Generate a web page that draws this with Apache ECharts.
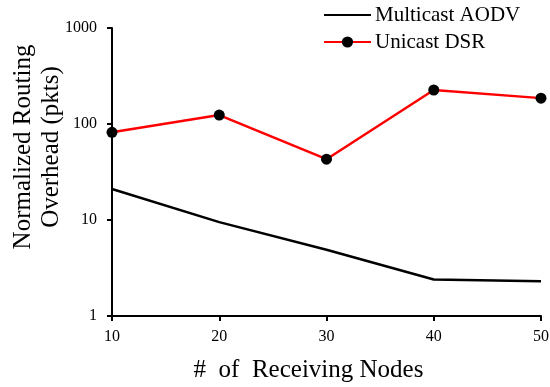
<!DOCTYPE html>
<html><head><meta charset="utf-8">
<script src="https://cdn.jsdelivr.net/npm/echarts@6/dist/echarts.min.js"></script>
<style>html,body{margin:0;padding:0;background:#fff}#c{width:550px;height:387px}</style>
</head><body><div id="c"></div>
<script>
const nodes = [10, 20, 30, 40, 50];
const multicastAODV = [21, 9.5, 4.9, 2.4, 2.3];
const unicastDSR = [82, 124, 43, 226, 186];
const yTicks = [1, 10, 100, 1000];

const font = '"Liberation Serif", "Times New Roman", serif';
const chart = echarts.init(document.getElementById('c'), null, {renderer: 'canvas'});
chart.setOption({
  animation: false,
  backgroundColor: '#fff',
  grid: {left: 112, right: 9, top: 28, bottom: 71, containLabel: false, outerBoundsMode: 'none'},
  legend: {
    left: 323, top: 4, padding: 0, orient: 'vertical', itemGap: 5, itemWidth: 47, itemHeight: 14,
    textStyle: {fontFamily: font, fontSize: 21, lineHeight: 22, color: '#000', padding: [0,0,0,-1]},
    data: [
      {name: 'Multicast AODV', itemStyle: {opacity: 0}},
      {name: 'Unicast DSR'}
    ]
  },
  xAxis: {
    type: 'value', min: 10, max: 50, interval: 10,
    name: '#  of  Receiving Nodes', nameLocation: 'middle', nameGap: 42,
    nameTextStyle: {fontFamily: font, fontSize: 25, color: '#000', padding: [0, 36, 0, 0]},
    axisLine: {lineStyle: {color: '#000', width: 2}},
    axisTick: {length: 5, lineStyle: {color: '#000', width: 2}},
    axisLabel: {fontFamily: font, fontSize: 16, color: '#000', margin: 13},
    splitLine: {show: false}
  },
  yAxis: {
    type: 'log', logBase: 10, min: yTicks[0], max: yTicks[yTicks.length - 1],
    name: 'Normalized Routing\nOverhead (pkts)', nameLocation: 'middle', nameGap: 47,
    nameMoveOverlap: false,
    nameTextStyle: {fontFamily: font, fontSize: 25, color: '#000', lineHeight: 28, padding: [0, 0, 0, 50]},
    axisLine: {show: true, lineStyle: {color: '#000', width: 2}},
    axisTick: {show: true, length: 5, lineStyle: {color: '#000', width: 2}},
    minorTick: {show: false},
    axisLabel: {fontFamily: font, fontSize: 16, color: '#000', margin: 15, formatter: v => String(v)},
    splitLine: {show: false}
  },
  series: [
    {
      name: 'Multicast AODV', type: 'line',
      data: nodes.map((n, i) => [n, multicastAODV[i]]),
      showSymbol: false, symbol: 'none',
      lineStyle: {color: '#000', width: 2.5},
      itemStyle: {color: '#000'}
    },
    {
      name: 'Unicast DSR', type: 'line',
      data: nodes.map((n, i) => [n, unicastDSR[i]]),
      symbol: 'circle', symbolSize: 11,
      lineStyle: {color: '#ff0000', width: 2.5},
      itemStyle: {color: '#000', borderWidth: 0}
    }
  ]
});
</script></body></html>
